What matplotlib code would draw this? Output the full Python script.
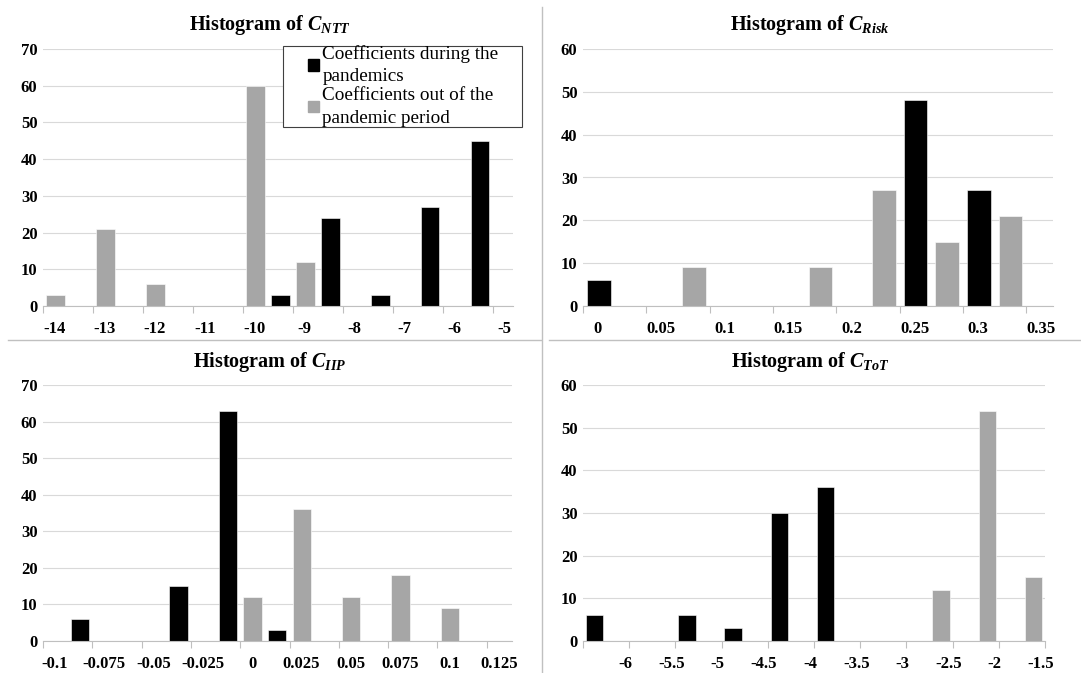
import numpy as np
import matplotlib
matplotlib.use("Agg")
import matplotlib.pyplot as plt
import matplotlib.transforms as mtransforms
from matplotlib.patches import Patch, Rectangle
from matplotlib.lines import Line2D

plt.rcParams['font.family'] = ['Liberation Serif', 'DejaVu Serif']
plt.rcParams['mathtext.fontset'] = 'custom'
plt.rcParams['mathtext.it'] = 'Liberation Serif:italic:bold'
plt.rcParams['mathtext.rm'] = 'Liberation Serif:bold'
plt.rcParams['mathtext.bf'] = 'Liberation Serif:bold'

W, H = 1081, 673
BLACK = "#000000"
GREY = "#a6a6a6"

# C_NTT
ntt_bin = 0.5
ntt_during_x = [-9.25, -8.25, -7.25, -6.25, -5.25]
ntt_during_n = [3, 24, 3, 27, 45]
ntt_out_x = [-13.75, -12.75, -11.75, -9.75, -8.75]
ntt_out_n = [3, 21, 6, 60, 12]
ntt_ticks = [-14, -13, -12, -11, -10, -9, -8, -7, -6, -5]
ntt_labels = ["-14", "-13", "-12", "-11", "-10", "-9", "-8", "-7", "-6", "-5"]

# C_Risk
risk_bin = 0.025
risk_during_x = [0.0125, 0.2625, 0.3125]
risk_during_n = [6, 48, 27]
risk_out_x = [0.0875, 0.1875, 0.2375, 0.2875, 0.3375]
risk_out_n = [9, 9, 27, 15, 21]
risk_ticks = [0, 0.05, 0.1, 0.15, 0.2, 0.25, 0.3, 0.35]
risk_labels = ["0", "0.05", "0.1", "0.15", "0.2", "0.25", "0.3", "0.35"]

# C_IIP
iip_bin = 0.0125
iip_during_x = [-0.08125, -0.03125, -0.00625, 0.01875]
iip_during_n = [6, 15, 63, 3]
iip_out_x = [0.00625, 0.03125, 0.05625, 0.08125, 0.10625]
iip_out_n = [12, 36, 12, 18, 9]
iip_ticks = [-0.1, -0.075, -0.05, -0.025, 0, 0.025, 0.05, 0.075, 0.1, 0.125]
iip_labels = ["-0.1", "-0.075", "-0.05", "-0.025", "0", "0.025", "0.05",
              "0.075", "0.1", "0.125"]

# C_ToT
tot_bin = 0.25
tot_during_x = [-6.375, -5.375, -4.875, -4.375, -3.875]
tot_during_n = [6, 6, 3, 30, 36]
tot_out_x = [-2.625, -2.125, -1.625]
tot_out_n = [12, 54, 15]
tot_ticks = [-6.5, -6, -5.5, -5, -4.5, -4, -3.5, -3, -2.5, -2, -1.5]
tot_labels = ["", "-6", "-5.5", "-5", "-4.5", "-4", "-3.5", "-3", "-2.5", "-2", "-1.5"]

fig = plt.figure(figsize=(W / 100, H / 100), dpi=100)


def px_axes(left, top, right, bottom):
    return fig.add_axes([left / W, 1 - bottom / H, (right - left) / W, (bottom - top) / H])


def draw_panel(box, binw, dx, dn, ox, on, ticks, labels, xlim, ymax, lab_dx):
    ax = px_axes(*box)
    ax.bar(ox, on, width=binw * 0.75, color=GREY, edgecolor="white", linewidth=0.4)
    ax.bar(dx, dn, width=binw * 0.75, color=BLACK, edgecolor="white", linewidth=0.4)
    ax.set_xlim(*xlim)
    ax.set_ylim(0, ymax)
    ax.set_yticks(np.arange(0, ymax + 1, 10))
    ax.set_xticks(ticks)
    ax.set_xticklabels(labels)
    ax.set_axisbelow(True)
    ax.yaxis.grid(True, color="#d9d9d9", linewidth=0.8)
    for s in ["left", "right", "top"]:
        ax.spines[s].set_visible(False)
    ax.spines["bottom"].set_color("#bfbfbf")
    ax.spines["bottom"].set_linewidth(0.8)
    ax.tick_params(axis="x", length=5, width=0.8, color="#bfbfbf", pad=6,
                   labelsize=12)
    ax.tick_params(axis="y", length=0, pad=4, labelsize=12)
    for t in ax.get_xticklabels() + ax.get_yticklabels():
        t.set_fontweight("bold")
    off = mtransforms.ScaledTranslation(lab_dx / 100, 0, fig.dpi_scale_trans)
    for t in ax.get_xticklabels():
        t.set_transform(t.get_transform() + off)
    return ax


ax1 = draw_panel((43, 49, 513, 306), ntt_bin, ntt_during_x, ntt_during_n,
                 ntt_out_x, ntt_out_n, ntt_ticks, ntt_labels, (-14, -4.59), 70, 12)
ax2 = draw_panel((583, 49, 1053, 306), risk_bin, risk_during_x, risk_during_n,
                 risk_out_x, risk_out_n, risk_ticks, risk_labels, (0, 0.371), 60, 15)
ax3 = draw_panel((43, 385, 512, 641), iip_bin, iip_during_x, iip_during_n,
                 iip_out_x, iip_out_n, iip_ticks, iip_labels, (-0.1, 0.1378), 70, 12)
ax4 = draw_panel((583, 385, 1045, 641), tot_bin, tot_during_x, tot_during_n,
                 tot_out_x, tot_out_n, tot_ticks, tot_labels, (-6.5, -1.5), 60, -4)

# titles
titles = [(270, 25, "NTT"), (810, 25, "Risk"), (270, 362, "IIP"), (810, 362, "ToT")]
for x, y, sub in titles:
    fig.text(x / W, 1 - y / H, "Histogram of $C_{%s}$" % sub, ha="center", va="center",
             fontsize=14.5, fontweight="bold")

# separators
sep = "#c0c0c0"
fig.add_artist(Line2D([542 / W, 542 / W], [0, 1 - 7 / H], color=sep, lw=1))
fig.add_artist(Line2D([8 / W, 541 / W], [1 - 340 / H, 1 - 340 / H], color=sep, lw=1))
fig.add_artist(Line2D([549 / W, 1], [1 - 340 / H, 1 - 340 / H], color=sep, lw=1))

# legend
fig.add_artist(Rectangle((283 / W, 1 - 127 / H), (522 - 283) / W, (127 - 46) / H,
                         transform=fig.transFigure, facecolor="white",
                         edgecolor="#404040", linewidth=0.8, zorder=5))
handles = [Patch(color=BLACK), Patch(color=GREY)]
leg = fig.legend(handles, ["Coefficients during the\npandemics",
                           "Coefficients out of the\npandemic period"],
                 loc="upper left", bbox_to_anchor=(308 / W, 1 - 45 / H),
                 frameon=False, fontsize=13.8, handlelength=0.55, handleheight=0.55,
                 handletextpad=0.2, labelspacing=0.12, borderpad=0, borderaxespad=0)
for t in leg.get_texts():
    t.set_linespacing(1.4)
leg.set_zorder(6)

fig.savefig("out.png", dpi=100)
